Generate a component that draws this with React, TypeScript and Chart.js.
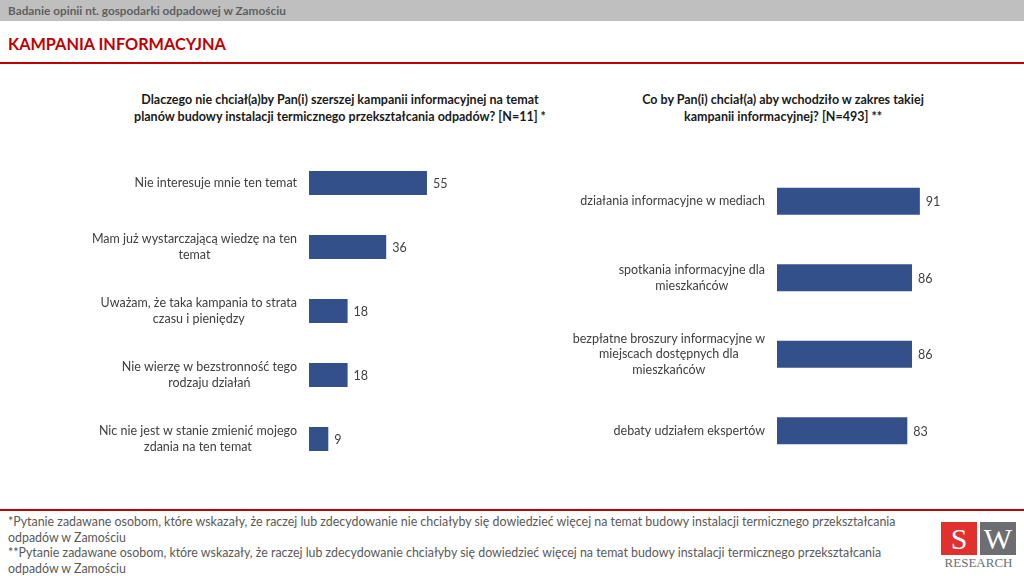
import React, { useEffect, useRef } from "react";
import { Chart, registerables } from "chart.js";

Chart.register(...registerables);

const leftCategories: string[][] = [
  ["Nie interesuje mnie ten temat"],
  ["Mam już wystarczającą wiedzę na ten", "temat"],
  ["Uważam, że taka kampania to strata", "czasu i pieniędzy"],
  ["Nie wierzę w bezstronność tego", "rodzaju działań"],
  ["Nic nie jest w stanie zmienić mojego", "zdania na ten temat"],
];
const leftValues: number[] = [55, 36, 18, 18, 9];

const rightCategories: string[][] = [
  ["działania informacyjne w mediach"],
  ["spotkania informacyjne dla", "mieszkańców"],
  ["bezpłatne broszury informacyjne w", "miejscach dostępnych dla", "mieszkańców"],
  ["debaty udziałem ekspertów"],
];
const rightValues: number[] = [91, 86, 86, 83];

const leftTitle = [
  "Dlaczego nie chciał(a)by Pan(i) szerszej kampanii informacyjnej na temat",
  "planów budowy instalacji termicznego przekształcania odpadów? [N=11] *",
];
const rightTitle = [
  "Co by Pan(i) chciał(a) aby wchodziło w zakres takiej",
  "kampanii informacyjnej? [N=493] **",
];

const footerLines = [
  "*Pytanie zadawane osobom, które wskazały, że raczej lub zdecydowanie nie chciałyby się dowiedzieć więcej na temat budowy instalacji termicznego przekształcania",
  "odpadów w Zamościu",
  "**Pytanie zadawane osobom, które wskazały, że raczej lub zdecydowanie chciałyby się dowiedzieć więcej na temat budowy instalacji termicznego przekształcania",
  "odpadów w Zamościu",
];

const FONT = "Lato, 'Open Sans', sans-serif";
const BAR = "#34508a";
const TEXT = "#404040";

type BarProps = {
  categories: string[][];
  values: number[];
  left: number;
  top: number;
  width: number;
  height: number;
  padding: { left: number; right: number; top: number; bottom: number };
  barFraction: number;
  lineHeight: number;
};

function BarPanel(p: BarProps) {
  const ref = useRef<HTMLCanvasElement | null>(null);
  useEffect(() => {
    if (!ref.current) return;
    const labelPlugin = {
      id: "sideLabels",
      afterDatasetsDraw(chart: any) {
        const ctx = chart.ctx;
        const yScale = chart.scales.y;
        const area = chart.chartArea;
        ctx.save();
        ctx.font = `12.5px ${FONT}`;
        ctx.fillStyle = TEXT;
        ctx.textBaseline = "middle";
        ctx.textAlign = "center";
        p.categories.forEach((lines, i) => {
          const cy = yScale.getPixelForValue(i);
          const w = Math.max(...lines.map((l) => ctx.measureText(l).width));
          const cx = area.left - 12 - w / 2;
          const y0 = cy - ((lines.length - 1) * p.lineHeight) / 2;
          lines.forEach((l, k) => ctx.fillText(l, cx, y0 + k * p.lineHeight));
        });
        const meta = chart.getDatasetMeta(0);
        ctx.textAlign = "left";
        meta.data.forEach((bar: any, i: number) => {
          ctx.fillText(String(p.values[i]), bar.x + 6, bar.y + 1);
        });
        ctx.restore();
      },
    };
    const chart = new Chart(ref.current, {
      type: "bar",
      data: {
        labels: p.categories.map((c) => c.join(" ")),
        datasets: [
          {
            data: p.values,
            backgroundColor: BAR,
            borderWidth: 0,
            barPercentage: p.barFraction,
            categoryPercentage: 1,
          },
        ],
      },
      options: {
        indexAxis: "y",
        responsive: false,
        animation: false,
        layout: { padding: p.padding },
        scales: {
          x: { display: false, min: 0, max: 100 },
          y: { display: false },
        },
        plugins: { legend: { display: false }, tooltip: { enabled: false } },
      },
      plugins: [labelPlugin],
    });
    return () => chart.destroy();
  }, []);
  return (
    <canvas
      ref={ref}
      width={p.width}
      height={p.height}
      style={{ position: "absolute", left: p.left, top: p.top, width: p.width, height: p.height }}
    />
  );
}

export default function App() {
  return (
    <div
      style={{
        position: "fixed",
        left: 0,
        top: 0,
        width: 1024,
        height: 576,
        background: "#ffffff",
        overflow: "hidden",
        fontFamily: FONT,
      }}
    >
      <div
        style={{
          position: "absolute",
          left: 0,
          top: 0,
          width: 1024,
          height: 21,
          background: "#bfbfbf",
          color: "#5f5f5f",
          fontWeight: 700,
          fontSize: 11.8,
          lineHeight: "21px",
          paddingLeft: 8,
          boxSizing: "border-box",
        }}
      >
        Badanie opinii nt. gospodarki odpadowej w Zamościu
      </div>
      <div
        style={{
          position: "absolute",
          left: 8,
          top: 33,
          color: "#c00000",
          fontWeight: 700,
          fontSize: 16.3,
          lineHeight: "22px",
        }}
      >
        KAMPANIA INFORMACYJNA
      </div>
      <div style={{ position: "absolute", left: 0, top: 62, width: 1024, height: 2, background: "#c00000" }} />

      <div
        style={{
          position: "absolute",
          left: 90,
          width: 500,
          top: 91,
          textAlign: "center",
          fontWeight: 700,
          fontSize: 12.5,
          lineHeight: "17px",
          color: "#1a1a1a",
        }}
      >
        {leftTitle.map((t, i) => (
          <div key={i}>{t}</div>
        ))}
      </div>
      <div
        style={{
          position: "absolute",
          left: 583,
          width: 400,
          top: 91,
          textAlign: "center",
          fontWeight: 700,
          fontSize: 12.5,
          lineHeight: "17px",
          color: "#1a1a1a",
        }}
      >
        {rightTitle.map((t, i) => (
          <div key={i}>{t}</div>
        ))}
      </div>

      <BarPanel
        categories={leftCategories}
        values={leftValues}
        left={0}
        top={140}
        width={560}
        height={350}
        padding={{ left: 309, right: 36.5, top: 11, bottom: 19 }}
        barFraction={0.375}
        lineHeight={16}
      />
      <BarPanel
        categories={rightCategories}
        values={rightValues}
        left={560}
        top={140}
        width={464}
        height={350}
        padding={{ left: 217, right: 90, top: 23, bottom: 21 }}
        barFraction={0.355}
        lineHeight={15.5}
      />

      <div style={{ position: "absolute", left: 0, top: 509, width: 1024, height: 2, background: "#c00000" }} />
      <div
        style={{
          position: "absolute",
          left: 8,
          top: 514,
          fontSize: 12.4,
          lineHeight: "15.5px",
          color: "#595959",
          whiteSpace: "nowrap",
        }}
      >
        {footerLines.map((t, i) => (
          <div key={i}>{t}</div>
        ))}
      </div>

      <div
        style={{
          position: "absolute",
          left: 941,
          top: 522,
          width: 36,
          height: 33,
          background: "#e2302e",
          color: "#fff",
          fontFamily: "'Liberation Serif', 'DejaVu Serif', serif",
          fontSize: 30,
          lineHeight: "33px",
          textAlign: "center",
        }}
      >
        S
      </div>
      <div
        style={{
          position: "absolute",
          left: 980,
          top: 522,
          width: 36,
          height: 33,
          background: "#6d6e71",
          color: "#fff",
          fontFamily: "'Liberation Serif', 'DejaVu Serif', serif",
          fontSize: 30,
          lineHeight: "33px",
          textAlign: "center",
        }}
      >
        W
      </div>
      <div
        style={{
          position: "absolute",
          left: 939,
          top: 556,
          width: 79,
          textAlign: "center",
          color: "#6d6e71",
          fontFamily: "'Liberation Serif', 'DejaVu Serif', serif",
          fontSize: 13,
          lineHeight: "14px",
        }}
      >
        RESEARCH
      </div>
    </div>
  );
}
